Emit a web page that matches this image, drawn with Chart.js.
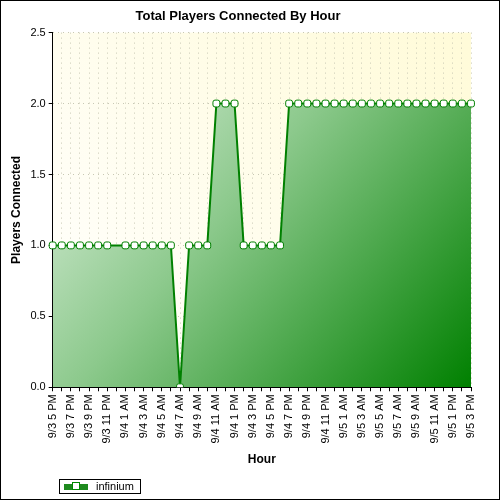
<!DOCTYPE html>
<html>
<head>
<script src="https://cdn.jsdelivr.net/npm/chart.js@4"></script>
<style>
  body { margin: 0; background: #fff; }
  #wrap { position: relative; width: 498px; height: 498px; border: 1px solid #000; }
  #legend { position: absolute; left: 58px; top: 478px; border: 1px solid #000; padding: 0 6px 0 4px;
    font: 11px "Liberation Sans", Arial, sans-serif; height: 13px; line-height: 13px; }
  #legend span.sw { display: inline-block; width: 24px; height: 6px; background: #1e8a1e; vertical-align: middle; margin-right: 8px; position: relative; }
  #legend span.sw i { position: absolute; left: 8px; top: -2px; width: 6px; height: 6px; background: #fff; border: 1px solid #080; }
</style>
</head>
<body>
<div id="wrap">
  <canvas id="chart" width="498" height="498"></canvas>
  <div id="legend"><span class="sw"><i></i></span>infinium</div>
</div>
<script>
// hourly from 9/3 5 PM to 9/5 3 PM
const hours = [
  "9/3 5 PM","9/3 6 PM","9/3 7 PM","9/3 8 PM","9/3 9 PM","9/3 10 PM","9/3 11 PM","9/4 12 AM",
  "9/4 1 AM","9/4 2 AM","9/4 3 AM","9/4 4 AM","9/4 5 AM","9/4 6 AM","9/4 7 AM","9/4 8 AM",
  "9/4 9 AM","9/4 10 AM","9/4 11 AM","9/4 12 PM","9/4 1 PM","9/4 2 PM","9/4 3 PM","9/4 4 PM",
  "9/4 5 PM","9/4 6 PM","9/4 7 PM","9/4 8 PM","9/4 9 PM","9/4 10 PM","9/4 11 PM","9/5 12 AM",
  "9/5 1 AM","9/5 2 AM","9/5 3 AM","9/5 4 AM","9/5 5 AM","9/5 6 AM","9/5 7 AM","9/5 8 AM",
  "9/5 9 AM","9/5 10 AM","9/5 11 AM","9/5 12 PM","9/5 1 PM","9/5 2 PM","9/5 3 PM"
];
const infinium = [
  1,1,1,1,1,1,1,null,
  1,1,1,1,1,1,0,1,
  1,1,2,2,2,1,1,1,
  1,1,2,2,2,2,2,2,
  2,2,2,2,2,2,2,2,
  2,2,2,2,2,2,2
];
const yTicks = [0, 0.5, 1, 1.5, 2, 2.5];

const font = "'Liberation Sans', Arial, sans-serif";

const areaFill = (ctx) => {
  const a = ctx.chart.chartArea;
  if (!a) return "rgba(0,128,0,0.5)";
  const g = ctx.chart.ctx.createLinearGradient(a.left, a.top, a.right, a.bottom);
  g.addColorStop(0, "#eef7ee");
  g.addColorStop(0.45, "#8cc98c");
  g.addColorStop(1, "#008000");
  return g;
};

const plotBg = {
  id: "plotBg",
  beforeDraw(chart) {
    const { ctx, chartArea: a } = chart;
    const g = ctx.createLinearGradient(a.left, a.bottom, a.right, a.top);
    g.addColorStop(0, "#ffffff");
    g.addColorStop(1, "#fffbd8");
    ctx.save();
    ctx.fillStyle = g;
    ctx.fillRect(a.left, a.top, a.right - a.left, a.bottom - a.top);
    ctx.restore();
  }
};

new Chart(document.getElementById("chart"), {
  type: "line",
  data: {
    labels: hours,
    datasets: [{
      label: "infinium",
      data: infinium,
      spanGaps: true,
      fill: true,
      backgroundColor: areaFill,
      borderColor: "#008000",
      borderWidth: 2,
      tension: 0,
      pointStyle: "rectRounded",
      pointRadius: 4,
      pointBackgroundColor: "#ffffff",
      pointBorderColor: "#008000",
      pointBorderWidth: 1,
    }],
  },
  options: {
    responsive: false,
    animation: false,
    layout: { padding: { left: 4, right: 28, top: 0, bottom: 28 } },
    plugins: {
      legend: { display: false },
      tooltip: { enabled: false },
      title: {
        display: true,
        text: "Total Players Connected By Hour",
        color: "#000",
        font: { family: font, size: 13, weight: "bold" },
        padding: { top: 8, bottom: 8 },
      },
    },
    scales: {
      x: {
        offset: false,
        grid: { color: "#c8c8b4", tickColor: "#000", tickLength: 4, borderDash: [1, 4] },
        border: { color: "#000", dash: [1, 4] },
        ticks: {
          autoSkip: false,
          maxRotation: 90,
          minRotation: 90,
          color: "#000",
          font: { family: font, size: 11 },
          callback: (v, i) => (i % 2 === 0 ? hours[i] : ""),
        },
        title: { display: true, text: "Hour", color: "#000", font: { family: font, size: 12, weight: "bold" }, padding: { top: 6 } },
      },
      y: {
        min: 0,
        max: 2.5,
        afterBuildTicks: (s) => { s.ticks = yTicks.map((v) => ({ value: v })); },
        grid: { color: "#c8c8b4", tickColor: "#000", tickLength: 4 },
        border: { color: "#000", dash: [1, 4] },
        ticks: { color: "#000", font: { family: font, size: 11 }, callback: (v) => v.toFixed(1) },
        title: { display: true, text: "Players Connected", color: "#000", font: { family: font, size: 12, weight: "bold" } },
      },
    },
  },
  plugins: [plotBg],
});
</script>
</body>
</html>
